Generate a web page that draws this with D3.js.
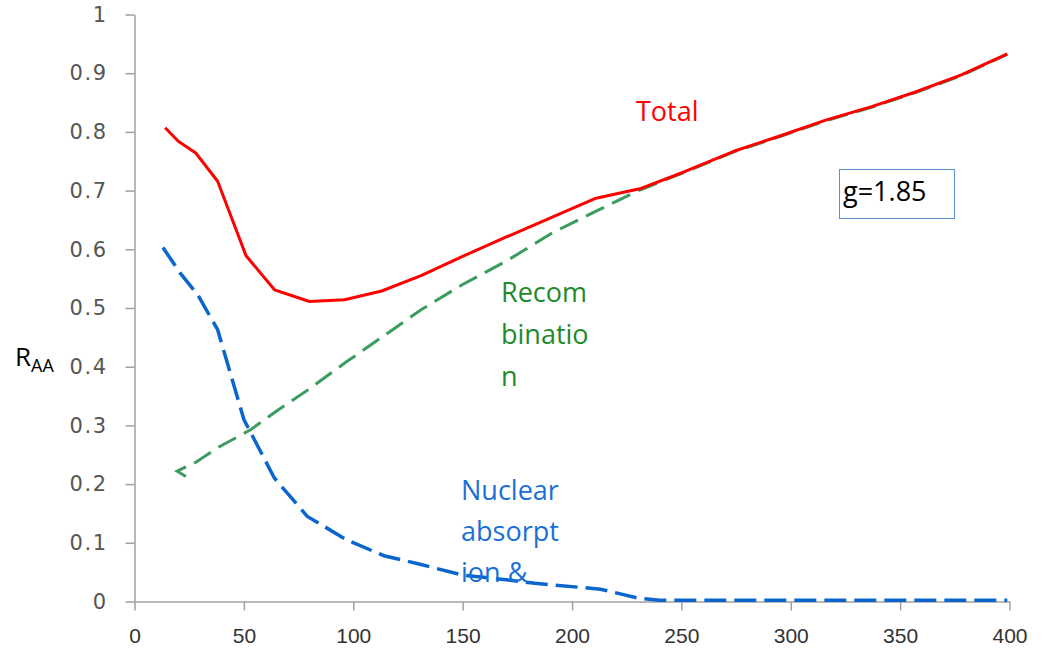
<!DOCTYPE html>
<html>
<head>
<meta charset="utf-8">
<script src="https://cdn.jsdelivr.net/npm/d3@7"></script>
<style>
  body { margin: 0; background: #fff; }
  svg { display: block; }
</style>
</head>
<body>
<svg id="chart"></svg>
<script>
// values
const xTicks = [0, 50, 100, 150, 200, 250, 300, 350, 400];
const yTicks = [0, 0.1, 0.2, 0.3, 0.4, 0.5, 0.6, 0.7, 0.8, 0.9, 1];

const totalX = [14, 20, 28, 38, 51, 64, 80, 96, 113, 131, 150, 170, 191, 211, 231, 252, 274, 295, 316, 337, 357, 378, 399];
const totalY = [0.807, 0.784, 0.764, 0.716, 0.589, 0.531, 0.511, 0.514, 0.529, 0.555, 0.588, 0.621, 0.655, 0.687, 0.703, 0.733, 0.767, 0.793, 0.82, 0.843, 0.868, 0.897, 0.933];

const recombX = [23.5, 19.5, 28.4, 38, 52.8, 64, 79.5, 96.4, 113, 131, 150, 170, 191, 211, 231, 252, 274, 295, 316, 337, 357, 378, 399];
const recombY = [0.213, 0.222, 0.238, 0.262, 0.292, 0.322, 0.361, 0.407, 0.45, 0.497, 0.54, 0.58, 0.628, 0.665, 0.701, 0.732, 0.766, 0.792, 0.819, 0.842, 0.867, 0.896, 0.932];

const nuclearX = [13, 21, 29, 38, 50, 64, 79, 97, 114, 131, 150, 170, 183, 213, 230, 240, 300, 350, 399];
const nuclearY = [0.603, 0.559, 0.522, 0.463, 0.31, 0.21, 0.145, 0.105, 0.078, 0.063, 0.045, 0.037, 0.031, 0.021, 0.006, 0.002, 0.002, 0.002, 0.002];

const width = 1047, height = 650;
const svg = d3.select("#chart").attr("width", width).attr("height", height);

const x = d3.scaleLinear().domain([0, 400]).range([134.5, 1009.5]);
const y = d3.scaleLinear().domain([0, 1]).range([601.5, 14.5]);

// axes
const xAxis = svg.append("g")
    .attr("transform", `translate(0,${y(0)})`)
    .call(d3.axisBottom(x).tickValues(xTicks).tickSize(9).tickPadding(18).tickSizeOuter(0));
xAxis.select(".domain").attr("stroke", "#a0a0a0").attr("stroke-width", 1.5);
xAxis.selectAll(".tick line").attr("stroke", "#a0a0a0").attr("stroke-width", 1.5);
xAxis.selectAll(".tick text")
    .attr("font-family", "Liberation Sans, Arial, sans-serif")
    .attr("font-size", 21).attr("fill", "#333");

const yAxis = svg.append("g")
    .attr("transform", `translate(${x(0)},0)`)
    .call(d3.axisLeft(y).tickValues(yTicks).tickSize(9).tickPadding(18).tickSizeOuter(0)
        .tickFormat(d => d === 0 || d === 1 ? d3.format("d")(d) : d3.format(".1f")(d)));
yAxis.select(".domain").attr("stroke", "#a0a0a0").attr("stroke-width", 1.5);
yAxis.selectAll(".tick line").attr("stroke", "#a0a0a0").attr("stroke-width", 1.5);
yAxis.selectAll(".tick text")
    .attr("font-family", "DejaVu Sans, sans-serif")
    .attr("font-size", 21).attr("fill", "#555")
    .attr("letter-spacing", 1.5);

// lines
const line = d3.line().x(d => x(d[0])).y(d => y(d[1]));

svg.append("path")
    .datum(d3.zip(recombX, recombY))
    .attr("fill", "none").attr("stroke", "#3a9c5e").attr("stroke-width", 3)
    .attr("stroke-dasharray", "20,9")
    .attr("d", line);

svg.append("path")
    .datum(d3.zip(nuclearX, nuclearY))
    .attr("fill", "none").attr("stroke", "#0a66cc").attr("stroke-width", 3.5)
    .attr("stroke-dasharray", "22,8")
    .attr("d", line);

svg.append("path")
    .datum(d3.zip(totalX, totalY))
    .attr("fill", "none").attr("stroke", "#ff0000").attr("stroke-width", 3)
    .attr("stroke-linejoin", "round")
    .attr("d", line);

// labels
const labelFont = "Open Sans, Noto Sans, sans-serif";

svg.append("text").attr("x", 636).attr("y", 121).attr("fill", "#ff0000")
    .attr("font-family", labelFont).attr("font-size", 27).text("Total");

const recomb = ["Recom", "binatio", "n"];
svg.append("g").selectAll("text").data(recomb).join("text")
    .attr("x", 501).attr("y", (d, i) => 302 + i * 42)
    .attr("fill", "#1f8a2a").attr("font-family", labelFont).attr("font-size", 27)
    .text(d => d);

const nuclear = ["Nuclear", "absorpt", "ion &"];
svg.append("g").selectAll("text").data(nuclear).join("text")
    .attr("x", 461).attr("y", (d, i) => 500 + i * 41)
    .attr("fill", "#1a6fd6").attr("font-family", labelFont).attr("font-size", 27)
    .text(d => d);

// g box
svg.append("rect").attr("x", 839.5).attr("y", 169.5).attr("width", 115).attr("height", 49)
    .attr("fill", "#fff").attr("stroke", "#5b8fcf").attr("stroke-width", 1);
svg.append("text").attr("x", 843).attr("y", 201).attr("fill", "#000")
    .attr("font-family", labelFont).attr("font-size", 27).text("g=1.85");

// y axis title
const raa = svg.append("text").attr("x", 15).attr("y", 366)
    .attr("font-family", labelFont).attr("font-size", 26).attr("fill", "#000");
raa.append("tspan").text("R");
raa.append("tspan").attr("dy", 6).attr("font-size", 18).text("AA");
</script>
</body>
</html>
